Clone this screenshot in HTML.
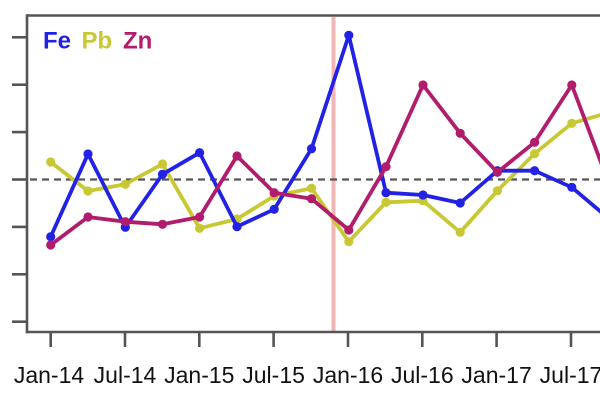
<!DOCTYPE html>
<html>
<head>
<meta charset="utf-8">
<style>
  html, body { margin: 0; padding: 0; background: #ffffff; }
  body { width: 600px; height: 400px; overflow: hidden; }
  svg { display: block; }
</style>
</head>
<body>
<svg width="600" height="400" viewBox="0 0 600 400" xmlns="http://www.w3.org/2000/svg">
  <rect x="0" y="0" width="600" height="400" fill="#ffffff"/>

  <!-- pink vertical marker -->
  <line x1="333.5" y1="17" x2="333.5" y2="331" stroke="#f2b4b4" stroke-width="4"/>

  <!-- dashed zero line -->
  <line x1="30" y1="179.5" x2="600" y2="179.5" stroke="#555555" stroke-width="2.3" stroke-dasharray="7,5"/>

  <!-- frame / axes -->
  <line x1="27" y1="15.5" x2="600" y2="15.5" stroke="#555555" stroke-width="2.6"/>
  <line x1="27" y1="14.3" x2="27" y2="333.2" stroke="#555555" stroke-width="2.6"/>
  <line x1="25.8" y1="332" x2="600" y2="332" stroke="#555555" stroke-width="2.6"/>

  <!-- y ticks -->
  <g stroke="#555555" stroke-width="2.6">
    <line x1="12" y1="37.3" x2="27" y2="37.3"/>
    <line x1="12" y1="84.7" x2="27" y2="84.7"/>
    <line x1="12" y1="132.1" x2="27" y2="132.1"/>
    <line x1="12" y1="179.5" x2="27" y2="179.5"/>
    <line x1="12" y1="226.9" x2="27" y2="226.9"/>
    <line x1="12" y1="274.3" x2="27" y2="274.3"/>
    <line x1="12" y1="321.7" x2="27" y2="321.7"/>
  </g>

  <!-- x ticks -->
  <g stroke="#555555" stroke-width="2.6">
    <line x1="50.7" y1="332" x2="50.7" y2="347"/>
    <line x1="125" y1="332" x2="125" y2="347"/>
    <line x1="199.3" y1="332" x2="199.3" y2="347"/>
    <line x1="273.6" y1="332" x2="273.6" y2="347"/>
    <line x1="348" y1="332" x2="348" y2="347"/>
    <line x1="422.3" y1="332" x2="422.3" y2="347"/>
    <line x1="496.6" y1="332" x2="496.6" y2="347"/>
    <line x1="571" y1="332" x2="571" y2="347"/>
  </g>

  <!-- x labels -->
  <g font-family="'Liberation Sans', Arial, sans-serif" font-size="23" fill="#111111" text-anchor="middle">
    <text x="49" y="383">Jan-14</text>
    <text x="125" y="383">Jul-14</text>
    <text x="199.3" y="383">Jan-15</text>
    <text x="273.6" y="383">Jul-15</text>
    <text x="348" y="383">Jan-16</text>
    <text x="422.3" y="383">Jul-16</text>
    <text x="496.6" y="383">Jan-17</text>
    <text x="571" y="383">Jul-17</text>
  </g>

  <!-- Pb series -->
  <g stroke="#c8c833" fill="#c8c833">
    <polyline fill="none" stroke-width="3.8" stroke-linejoin="round"
      points="50.7,162 88,191 125.3,184.3 162.5,164 199.6,228.3 237,219 274.2,196 311.5,188.3 348.8,241.7 386,202.3 423,200.7 460.2,232.3 497.4,190.7 534.6,153.7 571.8,123.3 609,112.6"/>
    <g stroke="none">
      <circle cx="50.7" cy="162" r="4.6"/>
      <circle cx="88" cy="191" r="4.6"/>
      <circle cx="125.3" cy="184.3" r="4.6"/>
      <circle cx="162.5" cy="164" r="4.6"/>
      <circle cx="199.6" cy="228.3" r="4.6"/>
      <circle cx="237" cy="219" r="4.6"/>
      <circle cx="274.2" cy="196" r="4.6"/>
      <circle cx="311.5" cy="188.3" r="4.6"/>
      <circle cx="348.8" cy="241.7" r="4.6"/>
      <circle cx="386" cy="202.3" r="4.6"/>
      <circle cx="423" cy="200.7" r="4.6"/>
      <circle cx="460.2" cy="232.3" r="4.6"/>
      <circle cx="497.4" cy="190.7" r="4.6"/>
      <circle cx="534.6" cy="153.7" r="4.6"/>
      <circle cx="571.8" cy="123.3" r="4.6"/>
    </g>
  </g>

  <!-- Fe series -->
  <g stroke="#2222e6" fill="#2222e6">
    <polyline fill="none" stroke-width="3.8" stroke-linejoin="round"
      points="50.7,236.7 88,154 125.3,227.3 162.5,174.3 199.6,152.7 237,226.7 274.2,209.3 311.5,148.7 348.8,35.3 386,192.7 423,195 460.2,203 497.4,170.7 534.6,170.7 571.8,187.3 609,218.7"/>
    <g stroke="none">
      <circle cx="50.7" cy="236.7" r="4.6"/>
      <circle cx="88" cy="154" r="4.6"/>
      <circle cx="125.3" cy="227.3" r="4.6"/>
      <circle cx="162.5" cy="174.3" r="4.6"/>
      <circle cx="199.6" cy="152.7" r="4.6"/>
      <circle cx="237" cy="226.7" r="4.6"/>
      <circle cx="274.2" cy="209.3" r="4.6"/>
      <circle cx="311.5" cy="148.7" r="4.6"/>
      <circle cx="348.8" cy="35.3" r="4.6"/>
      <circle cx="386" cy="192.7" r="4.6"/>
      <circle cx="423" cy="195" r="4.6"/>
      <circle cx="460.2" cy="203" r="4.6"/>
      <circle cx="497.4" cy="170.7" r="4.6"/>
      <circle cx="534.6" cy="170.7" r="4.6"/>
      <circle cx="571.8" cy="187.3" r="4.6"/>
    </g>
  </g>

  <!-- Zn series -->
  <g stroke="#b11c6c" fill="#b11c6c">
    <polyline fill="none" stroke-width="3.8" stroke-linejoin="round"
      points="50.7,245 88,217 125.3,221.7 162.5,224.3 199.6,217 237,156 274.2,192.7 311.5,198.7 348.8,230 386,166.7 423,85 460.2,133.3 497.4,172.3 534.6,142.3 571.8,85 609,183.6"/>
    <g stroke="none">
      <circle cx="50.7" cy="245" r="4.6"/>
      <circle cx="88" cy="217" r="4.6"/>
      <circle cx="125.3" cy="221.7" r="4.6"/>
      <circle cx="162.5" cy="224.3" r="4.6"/>
      <circle cx="199.6" cy="217" r="4.6"/>
      <circle cx="237" cy="156" r="4.6"/>
      <circle cx="274.2" cy="192.7" r="4.6"/>
      <circle cx="311.5" cy="198.7" r="4.6"/>
      <circle cx="348.8" cy="230" r="4.6"/>
      <circle cx="386" cy="166.7" r="4.6"/>
      <circle cx="423" cy="85" r="4.6"/>
      <circle cx="460.2" cy="133.3" r="4.6"/>
      <circle cx="497.4" cy="172.3" r="4.6"/>
      <circle cx="534.6" cy="142.3" r="4.6"/>
      <circle cx="571.8" cy="85" r="4.6"/>
    </g>
  </g>

  <!-- legend -->
  <g font-family="'Liberation Sans', Arial, sans-serif" font-size="24" font-weight="bold">
    <text x="43" y="48.5" fill="#2222e6">Fe</text>
    <text x="81.5" y="48.5" fill="#c8c833">Pb</text>
    <text x="123" y="48.5" fill="#b11c6c">Zn</text>
  </g>
</svg>
</body>
</html>
